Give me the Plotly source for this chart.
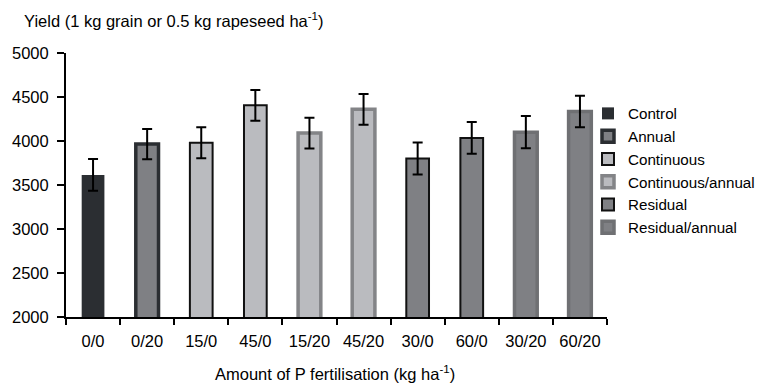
import plotly.graph_objects as go

categories = ["0/0", "0/20", "15/0", "45/0", "15/20", "45/20", "30/0", "60/0", "30/20", "60/20"]

series_names = ["Control", "Annual", "Continuous", "Continuous/annual", "Residual", "Residual/annual"]
series_cats = [["0/0"], ["0/20"], ["15/0", "45/0"], ["15/20", "45/20"], ["30/0", "60/0"], ["30/20", "60/20"]]
series_vals = [[3615], [3965], [3980, 4405], [4090, 4360], [3800, 4035], [4100, 4335]]
series_err = [[180], [172], [175, 175], [175, 175], [182, 180], [183, 180]]

fills = ["#2b2e32", "#7f8084", "#babbbf", "#babbbf", "#7f8084", "#7f8084"]
borders = ["#2b2e32", "#2b2e32", "#111111", "#838487", "#111111", "#6f7073"]
border_w = [0, 3.5, 2, 3.5, 2, 3.5]

FONT = "Arial, Liberation Sans, sans-serif"
PW = 782 - 66 - 175
PH = 387 - 53 - 70

fig = go.Figure()
for name, cats, vals, errs, fc, bc, bw in zip(series_names, series_cats, series_vals, series_err, fills, borders, border_w):
    fig.add_trace(go.Bar(
        name=name, x=cats, y=vals, width=0.42,
        marker=dict(color=fc, line=dict(color=bc, width=bw)),
        error_y=dict(type="data", array=errs, color="#000000", thickness=2, width=5),
        cliponaxis=False,
    ))

fig.update_layout(
    width=782, height=387,
    margin=dict(l=66, r=175, t=53, b=70),
    plot_bgcolor="white", paper_bgcolor="white",
    barmode="overlay",
    font=dict(family=FONT, size=16.5, color="#000000"),
    showlegend=True,
    legend=dict(x=(588 - 66) / PW, y=1 - 44 / PH, xanchor="left", yanchor="top", font=dict(size=15.2),
                bgcolor="rgba(0,0,0,0)", tracegroupgap=0, itemwidth=30),
    xaxis=dict(categoryorder="array", categoryarray=categories, showline=True, linecolor="#000000",
               linewidth=2, ticks="outside", tickson="boundaries", ticklen=6, tickwidth=2,
               tickcolor="#000000", showgrid=False, zeroline=False, ticklabelstandoff=8,
               automargin=False),
    yaxis=dict(range=[2000, 5000], tickvals=[2000, 2500, 3000, 3500, 4000, 4500, 5000],
               showline=True, linecolor="#000000", linewidth=2, ticks="outside", ticklen=7,
               tickwidth=2, tickcolor="#000000", showgrid=False, zeroline=False,
               ticklabelstandoff=5, automargin=False),
)
fig.add_annotation(text="Yield (1 kg grain or 0.5 kg rapeseed ha<sup>-1</sup>)", xref="paper", yref="paper",
                   x=(22 - 66) / PW, y=1 + 33 / PH, xanchor="left", yanchor="middle", showarrow=False,
                   font=dict(size=16.5))
fig.add_annotation(text="Amount of P fertilisation (kg ha<sup>-1</sup>)", xref="paper", yref="paper",
                   x=(335 - 66) / PW, y=(317 - 373) / PH, xanchor="center", yanchor="middle",
                   showarrow=False, font=dict(size=16.5))

fig.write_html("out.html")
